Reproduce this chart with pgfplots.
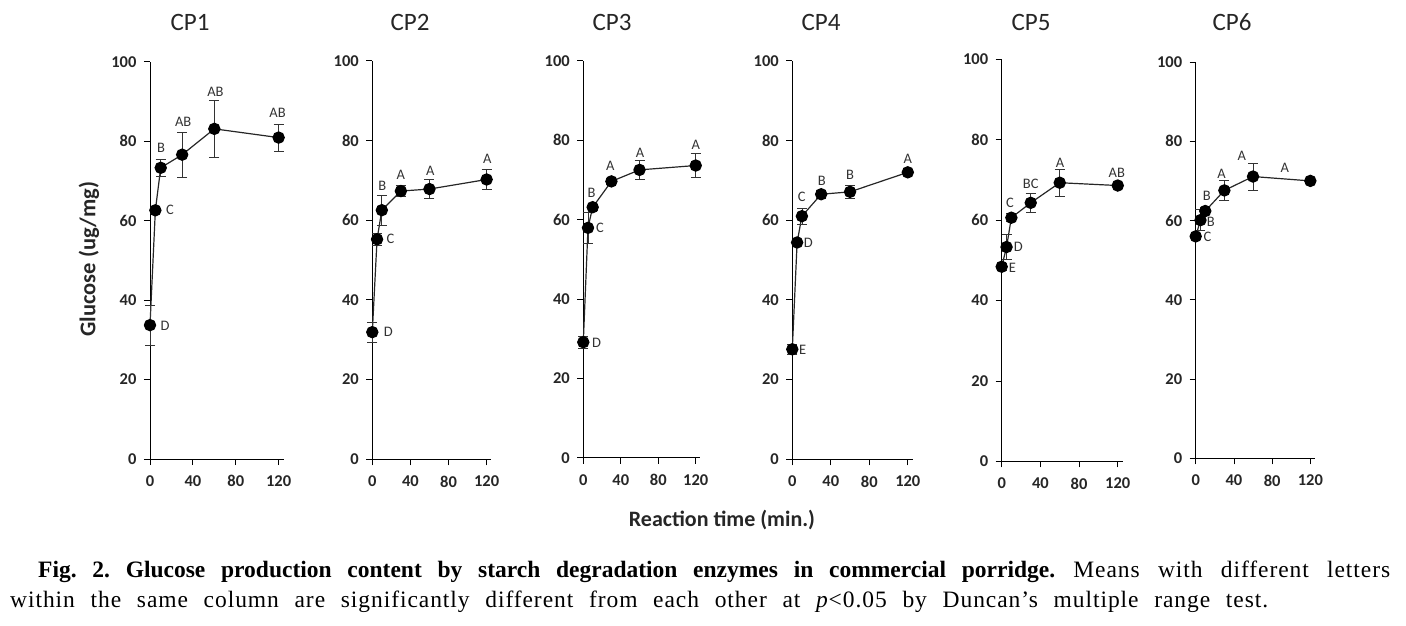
\documentclass[border=0pt]{standalone}
\usepackage{fontspec}
\setmainfont{Carlito}
\newfontfamily\capfont[LetterSpace=4,BoldFeatures={LetterSpace=0}]{Liberation Serif}
\usepackage{pgfplots}
\pgfplotsset{compat=1.18}
\usepackage{pgfplotstable}

\pgfplotstableread{
t y e
0 33.7 5.0
5 62.6 0.8
10 73.3 2.2
30 76.6 5.7
60 83.1 7.2
120 80.9 3.4
}\cpA
\pgfplotstableread{
t y e
0 31.9 2.5
5 55.2 1.5
10 62.5 3.8
30 67.3 1.3
60 67.8 2.4
120 70.2 2.6
}\cpB
\pgfplotstableread{
t y e
0 29.1 1.5
5 57.9 3.9
10 63.1 0.8
30 69.6 0.8
60 72.5 2.3
120 73.6 3.0
}\cpC
\pgfplotstableread{
t y e
0 27.6 1.2
5 54.4 0.8
10 61.0 2.0
30 66.5 1.0
60 67.1 1.6
120 72.0 0.6
}\cpD
\pgfplotstableread{
t y e
0 48.4 0.8
5 53.3 3.1
10 60.6 1.0
30 64.3 2.3
60 69.3 3.4
120 68.6 0.6
}\cpE
\pgfplotstableread{
t y e
0 56.0 0.8
5 60.1 2.7
10 62.4 0.8
30 67.6 2.5
60 71.1 3.4
120 70.0 0.6
}\cpF

\pgfplotsset{
 cpaxis/.style={
  scale only axis, anchor=origin,
  xmin=0, xmax=125, ymin=0, ymax=100,
  axis x line*=bottom, axis y line*=left,
  xtick={0,40,80,120}, ytick={0,20,...,100},
  tick align=outside, major tick length=6pt,
  tick style={black, line width=0.8pt},
  axis line style={black, line width=0.9pt},
  ticklabel style={font=\fontsize{16.5}{18}\selectfont\bfseries, text=black!85},
  xticklabel style={yshift=-7pt},
  yticklabel style={xshift=-4pt},
  /pgf/number format/assume math mode=true,
  clip=false,
 },
 cpline/.style={black!85, line width=1.2pt, mark=*, mark size=5.6pt,
   mark options={fill=black, draw=black},
   error bars/.cd, y dir=both, y explicit,
   error bar style={line width=0.8pt, black!80},
   error mark options={rotate=90, mark size=5pt, line width=0.8pt, black!80}},
}
\tikzset{lab/.style={font=\fontsize{14.5}{16}\selectfont, text=black!80, inner sep=0pt}}

\begin{document}
\frenchspacing
\begin{tikzpicture}
\useasboundingbox (0pt,0pt) rectangle (1406pt,-625pt);

\begin{axis}[cpaxis, at={(150pt,-459pt)}, width=134pt, height=397.3pt]
\addplot[cpline] table[x=t, y=y, y error=e] {\cpA};
\node[lab] at (axis cs:14,33.6) {D};
\node[lab] at (axis cs:18.6,62.7) {C};
\node[lab] at (axis cs:10.3,78.2) {B};
\node[lab] at (axis cs:31,84.9) {AB};
\node[lab] at (axis cs:61,92.5) {AB};
\node[lab] at (axis cs:119,87.2) {AB};
\end{axis}

\begin{axis}[cpaxis, at={(372.3pt,-459.3pt)}, width=119.1pt, height=398.6pt]
\addplot[cpline] table[x=t, y=y, y error=e] {\cpB};
\node[lab] at (axis cs:16.8,31.9) {D};
\node[lab] at (axis cs:19.2,55.3) {C};
\node[lab] at (axis cs:10.5,68.6) {B};
\node[lab] at (axis cs:30,71.3) {A};
\node[lab] at (axis cs:61,72.4) {A};
\node[lab] at (axis cs:120.7,75.5) {A};
\end{axis}

\begin{axis}[cpaxis, at={(583.3pt,-457.7pt)}, width=117.1pt, height=397pt]
\addplot[cpline] table[x=t, y=y, y error=e] {\cpC};
\node[lab] at (axis cs:14.2,29) {D};
\node[lab] at (axis cs:17.8,57.9) {C};
\node[lab] at (axis cs:8.9,66.6) {B};
\node[lab] at (axis cs:28.8,73.5) {A};
\node[lab] at (axis cs:60.5,76.7) {A};
\node[lab] at (axis cs:120,78.9) {A};
\end{axis}

\begin{axis}[cpaxis, at={(792.3pt,-459.3pt)}, width=120.3pt, height=398.6pt]
\addplot[cpline] table[x=t, y=y, y error=e] {\cpD};
\node[lab] at (axis cs:10.8,27.4) {E};
\node[lab] at (axis cs:16.7,54.4) {D};
\node[lab] at (axis cs:9.7,65.9) {C};
\node[lab] at (axis cs:30.6,69.9) {B};
\node[lab] at (axis cs:60,71.3) {B};
\node[lab] at (axis cs:120,75.3) {A};
\end{axis}

\begin{axis}[cpaxis, at={(1001.7pt,-461.3pt)}, width=120.9pt, height=402pt]
\addplot[cpline] table[x=t, y=y, y error=e] {\cpE};
\node[lab] at (axis cs:11,48.2) {E};
\node[lab] at (axis cs:17.2,53.4) {D};
\node[lab] at (axis cs:8.6,64.2) {C};
\node[lab] at (axis cs:30,68.9) {BC};
\node[lab] at (axis cs:60.3,74.3) {A};
\node[lab] at (axis cs:119,71.8) {AB};
\end{axis}

\begin{axis}[cpaxis, at={(1195.7pt,-458.3pt)}, width=119.4pt, height=396.3pt]
\addplot[cpline] table[x=t, y=y, y error=e] {\cpF};
\node[lab] at (axis cs:12.2,55.9) {C};
\node[lab] at (axis cs:15.7,59.6) {B};
\node[lab] at (axis cs:11.5,66.2) {B};
\node[lab] at (axis cs:27.2,71.9) {A};
\node[lab] at (axis cs:48.4,76.4) {A};
\node[lab] at (axis cs:93.4,73.2) {A};
\end{axis}

% panel titles
\foreach \xx/\tt in {190/CP1,410/CP2,612/CP3,821/CP4,1031/CP5,1232/CP6}
  \node[font=\fontsize{25}{27}\selectfont, text=black!85] at (\xx pt,-22pt) {\tt};

% axis labels
\node[rotate=90, font=\fontsize{22.5}{24}\selectfont\bfseries, text=black!85] at (89pt,-259pt) {Glucose (ug/mg)};
\node[font=\fontsize{22}{24}\selectfont\bfseries, text=black!85] at (722pt,-520pt) {Reaction time (min.)};

% caption
\node[anchor=base west, inner sep=0pt, font=\capfont\fontsize{23.5}{26}\selectfont] at (38pt,-577pt)
  {\makebox[1352pt][s]{\bfseries Fig. 2. Glucose production content by starch degradation enzymes in commercial porridge.\mdseries{} Means with different letters}};
\node[anchor=base west, inner sep=0pt, font=\capfont\fontsize{23.5}{26}\selectfont] at (10pt,-607pt)
  {\makebox[1258pt][s]{within the same column are significantly different from each other at \textit{p}<0.05 by Duncan’s multiple range test.}};
\end{tikzpicture}
\end{document}
